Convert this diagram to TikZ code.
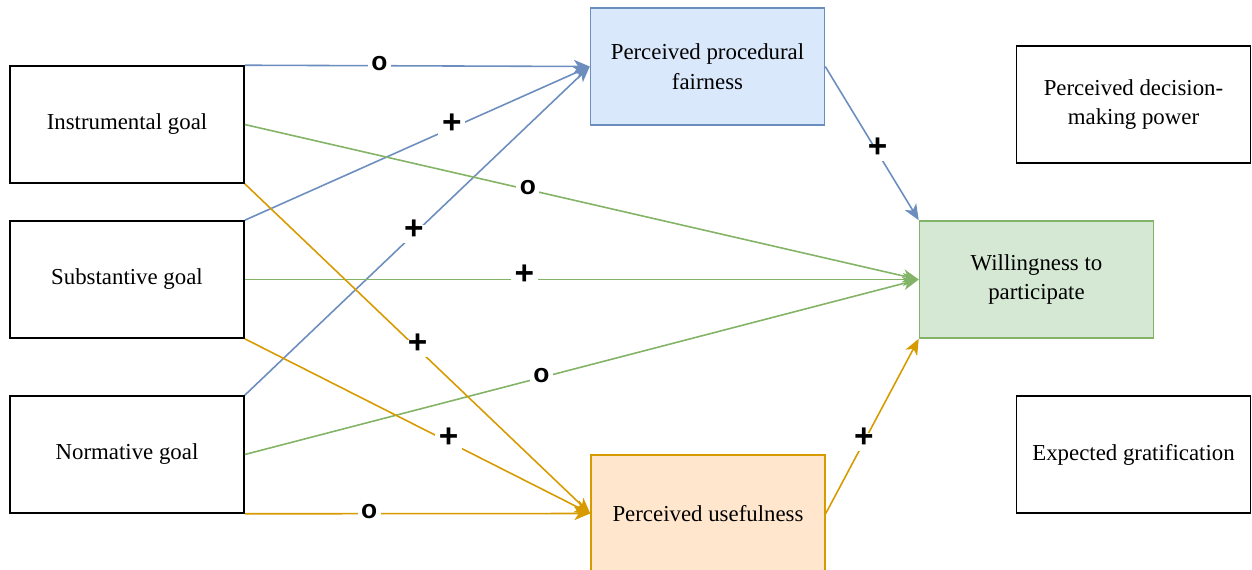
\documentclass[tikz,border=0pt]{standalone}
\usepackage{fontspec}
\setmainfont{Liberation Serif}
\newfontfamily\signfont{Liberation Sans}
\usetikzlibrary{arrows.meta}
\definecolor{fairline}{HTML}{6C8EBF}
\definecolor{fairfill}{HTML}{DAE8FC}
\definecolor{willline}{HTML}{82B366}
\definecolor{willfill}{HTML}{D5E8D4}
\definecolor{useline}{HTML}{D79B00}
\definecolor{usefill}{HTML}{FFE6CC}

\begin{document}
\begin{tikzpicture}[x=0.02cm, y=-0.02cm,
  box/.style={draw, line width=0.9pt, minimum width=4.68cm, minimum height=2.34cm,
    align=center, font=\fontsize{13}{17}\selectfont},
  link/.style={line width=0.9pt, -{Stealth[length=9pt, width=7.5pt, inset=2.5pt]}},
  zero/.style={fill=white, text=black, inner sep=2pt, text height=0.54em, text depth=0.01em,
    font=\signfont\bfseries\fontsize{15}{17}\selectfont},
  plus/.style={fill=white, text=black, inner sep=2pt, text height=0.59em, text depth=-0.12em,
    font=\signfont\bfseries\fontsize{19}{22}\selectfont}]
\useasboundingbox (0,0) rectangle (1252,569);
\clip (0,0) rectangle (1252,569);

\node[box] (ins) at (127,124.5) {Instrumental goal};
\node[box] (sub) at (127,279.5) {Substantive goal};
\node[box] (nor) at (127,454.5) {Normative goal};
\node[box, draw=fairline, fill=fairfill] (fair) at (707.5,66.5) {Perceived procedural\\fairness};
\node[box, draw=useline, fill=usefill] (use) at (708,513.5) {Perceived usefulness};
\node[box, draw=willline, fill=willfill] (will) at (1036.5,279.5) {Willingness to\\participate};
\node[box] (power) at (1133.5,104.5) {Perceived decision-\\making power};
\node[box] (grat) at (1133.5,454.5) {Expected gratification};

\foreach \src/\anc/\p/\sty/\txt in {ins/north east/0.39/zero/o, sub/north east/0.60/plus/+, nor/north east/0.49/plus/+}
\draw[link, fairline] (\src.\anc) -- node[\sty, pos=\p] {\txt} (fair.west);
\foreach \src/\p/\sty/\txt in {ins/0.42/zero/o, sub/0.415/plus/+, nor/0.44/zero/o}
\draw[link, willline] (\src.east) -- node[\sty, pos=\p] {\txt} (will.west);
\foreach \src/\anc/\p/\sty/\txt in {ins/south east/0.50/plus/+, sub/south east/0.59/plus/+, nor/south east/0.36/zero/o}
\draw[link, useline] (\src.\anc) -- node[\sty, pos=\p] {\txt} (use.west);

\draw[link, fairline] (fair.east) -- node[plus, pos=0.56] {+} (will.north west);
\draw[link, useline] (use.east) -- node[plus, pos=0.41] {+} (will.south west);
\end{tikzpicture}
\end{document}
